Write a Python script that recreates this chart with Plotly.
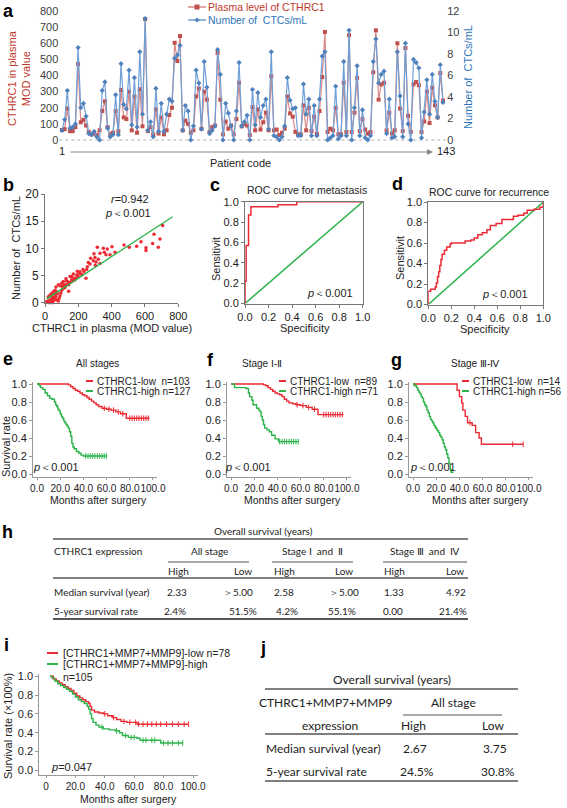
import plotly.graph_objects as go

W, H = 567, 808
ARIAL = "Arial, Liberation Sans, sans-serif"
TAB = "Lato, Carlito, sans-serif"

# ---------------- data ----------------
patient = list(range(1, 144))
plasma_mod = [62, 67, 196, 55, 55, 80, 471, 110, 125, 90, 50, 35, 40, 30, 60, 180, 240, 80, 35, 45,
              180, 55, 310, 140, 130, 300, 60, 270, 45, 315, 85, 750,
              55, 80, 35, 190, 40, 140, 35, 60, 155, 200, 603, 490, 645, 60, 120, 100, 45, 60, 270, 320,
              70, 300, 250, 50, 80, 90, 540, 250, 35, 115, 70, 90, 35, 130, 355, 85, 100,
              90, 30, 205, 60, 190, 65, 110, 170, 60, 395, 60, 65, 30, 45, 70, 270, 165, 145, 50, 35,
              35, 215, 60, 200, 55, 145, 40, 180, 390, 670, 50, 70, 60, 200,
              35, 35, 355, 50, 650, 50, 170, 385, 55, 130, 65, 40, 50, 420, 680, 250, 345, 355, 60, 170,
              40, 60, 600, 195, 55, 570, 150, 50, 345, 360, 340, 50, 115,
              300, 105, 325, 215, 140, 415, 245]
ctc_count = [0.9, 1.9, 4.6, 1.1, 1.2, 1.5, 8.6, 3.0, 3.4, 2.2, 0.6, 0.5, 0.8, 0.3, 0.0, 4.6, 5.4, 1.1, 0.3, 0.5,
             4.2, 0.5, 7.1, 3.3, 2.9, 6.5, 1.4, 5.8, 1.2, 8.2, 2.4, 11.3,
             0.9, 1.7, 0.3, 4.8, 0.8, 3.4, 0.8, 2.4, 3.8, 3.6, 7.6, 7.9, 8.8, 0.9, 3.2, 2.7, 0.0, 1.3, 6.5, 5.3,
             1.0, 7.3, 4.9, 0.6, 0.9, 1.3, 8.4, 6.1, 0.0, 3.4, 2.5, 1.3, 0.0, 2.7, 7.2, 1.3, 1.7,
             2.3, 0.0, 4.7, 1.4, 4.4, 2.1, 3.2, 3.8, 1.0, 8.2, 0.4, 0.3, 0.0, 0.3, 1.3, 5.8, 3.7, 2.9, 3.0, 0.4,
             0.4, 5.2, 2.4, 3.8, 0.4, 3.2, 0.4, 3.8, 7.8, 8.2, 0.0, 0.2, 0.4, 5.0,
             0.1, 0.4, 7.3, 0.4, 10.2, 0.0, 3.0, 6.9, 0.4, 2.8, 0.2, 0.0, 0.4, 7.3, 9.4, 5.3, 6.1, 6.4, 0.6, 3.8,
             0.2, 0.3, 8.2, 4.1, 0.3, 9.0, 1.5, 0.0, 7.5, 7.2, 6.7, 0.2, 2.6,
             5.6, 2.4, 6.1, 3.6, 2.1, 7.0, 3.5]
mod_ticks = [0, 100, 200, 300, 400, 500, 600, 700, 800]
ctc_ticks = [0, 2, 4, 6, 8, 10, 12]

# panel b scatter
b_mod = [706, 654, 690, 646, 680, 606, 606, 576, 550, 506, 474, 402, 374, 350, 314, 330, 356, 366, 294, 300,
         320, 290, 274, 260, 302, 250, 246, 228, 210, 194, 190, 170, 160, 150, 186, 130, 126, 142, 142, 110,
         100, 90, 80, 66, 60, 50, 40, 30, 20, 30, 40, 50, 60, 70, 80, 20, 26, 10, 90, 74,
         100, 120, 110, 130, 150, 166, 180, 200, 220, 206, 234, 254, 270, 306, 330, 390, 420,
         35, 45, 55, 65, 85, 45, 58, 68, 95, 105, 115, 140, 160, 175]
b_ctc = [14.2, 12.6, 11.7, 10.9, 10.2, 10.1, 9.6, 11.2, 10.4, 10.2, 10.6, 10.3, 9.9, 10.0, 10.2, 9.1, 9.3, 8.8, 9.0, 8.3,
         8.0, 7.7, 8.2, 7.4, 6.9, 6.1, 4.5, 6.1, 5.7, 5.8, 5.1, 5.3, 4.8, 4.8, 4.5, 4.0, 4.4, 3.3, 2.1, 3.9,
         3.6, 3.1, 3.3, 2.9, 2.3, 2.0, 1.7, 1.4, 1.1, 0.5, 0.7, 0.3, 0.9, 0.5, 0.3, 0.3, 0.0, 0.2, 1.3, 1.7,
         2.3, 2.8, 2.6, 3.3, 3.7, 4.0, 4.2, 4.8, 5.2, 5.4, 5.7, 6.6, 7.1, 7.5, 7.2, 8.8, 9.3,
         0.2, 1.0, 0.6, 1.2, 0.8, 0.0, 1.5, 2.0, 1.8, 3.0, 3.3, 3.8, 4.2, 4.5]
b_fit_x = [10, 766]
b_fit_y = [0.7, 15.8]

# ROC curves
roc_c_fpr = [0, 0, 0.01, 0.03, 0.05, 0.28, 0.44, 1.0]
roc_c_tpr = [0, 0.22, 0.57, 0.87, 0.95, 0.97, 1.0, 1.0]
roc_d_fpr = [0, 0, 0.02, 0.06, 0.07, 0.08, 0.09, 0.1, 0.11, 0.12, 0.14, 0.16, 0.19, 0.2, 0.32, 0.37, 0.4, 0.43,
             0.47, 0.51, 0.54, 0.59, 0.64, 0.74, 0.78, 0.83, 0.86, 0.92, 0.97, 1.0]
roc_d_tpr = [0, 0.13, 0.15, 0.17, 0.21, 0.27, 0.32, 0.38, 0.44, 0.49, 0.53, 0.56, 0.59, 0.6, 0.62, 0.63, 0.65, 0.68,
             0.7, 0.73, 0.77, 0.79, 0.83, 0.86, 0.87, 0.89, 0.92, 0.93, 0.95, 1.0]
diag = [0, 1]

# KM curves (months, survival)
e_low_t = [0, 27, 29, 31, 33, 35, 37, 39, 41, 43, 45, 47, 49, 51, 53, 56, 60, 64, 68, 72, 77, 97]
e_low_s = [1.0, 0.99, 0.97, 0.95, 0.93, 0.92, 0.9, 0.88, 0.87, 0.85, 0.83, 0.81, 0.79, 0.77, 0.75, 0.73, 0.72,
           0.71, 0.69, 0.67, 0.62, 0.62]
e_high_t = [0, 2, 3, 5, 7, 9, 11, 13, 15, 16, 17, 18, 19, 20, 21, 22, 23, 24, 25, 26, 27, 28, 29, 30, 31, 32,
            34, 36, 38, 40, 60]
e_high_s = [1.0, 0.98, 0.96, 0.94, 0.9, 0.87, 0.84, 0.83, 0.8, 0.77, 0.75, 0.72, 0.7, 0.67, 0.64, 0.62, 0.59,
            0.57, 0.55, 0.53, 0.51, 0.47, 0.42, 0.34, 0.3, 0.28, 0.25, 0.23, 0.21, 0.2, 0.2]
e_low_cens = [58, 62, 66, 70, 74, 80, 82, 84, 86, 88, 90, 92, 94, 96]
e_high_cens = [42, 44, 46, 48, 50, 52, 54, 56, 58, 60]

f_low_t = [0, 28, 30, 32, 34, 36, 38, 40, 42, 44, 46, 48, 50, 53, 56, 60, 65, 70, 75, 97]
f_low_s = [1.0, 0.99, 0.98, 0.96, 0.94, 0.92, 0.9, 0.89, 0.88, 0.86, 0.83, 0.81, 0.79, 0.78, 0.77, 0.76, 0.74,
           0.72, 0.66, 0.66]
f_high_t = [0, 3, 13, 15, 16, 18, 19, 22, 24, 25, 26, 27, 28, 29, 31, 33, 35, 38, 41, 58]
f_high_s = [1.0, 0.96, 0.95, 0.9, 0.86, 0.82, 0.77, 0.73, 0.71, 0.69, 0.64, 0.6, 0.55, 0.51, 0.49, 0.47, 0.43,
            0.39, 0.36, 0.36]
f_low_cens = [57, 62, 67, 72, 80, 82, 84, 86, 88, 90, 92, 94, 96]
f_high_cens = [42, 44, 46, 48, 50, 52, 54, 56, 58]

g_low_t = [0, 38, 40, 42, 43, 45, 47, 51, 54, 57, 59, 95]
g_low_s = [1.0, 0.93, 0.86, 0.79, 0.71, 0.64, 0.57, 0.54, 0.46, 0.4, 0.33, 0.33]
g_high_t = [0, 1, 2, 3, 4, 5, 6, 7, 8, 9, 10, 11, 12, 13, 14, 15, 16, 17, 18, 19, 20, 21, 22, 23, 24, 25, 26,
            27, 28, 29, 30, 31, 32, 33, 35]
g_high_s = [1.0, 0.98, 0.98, 0.96, 0.93, 0.91, 0.89, 0.86, 0.84, 0.8, 0.77, 0.75, 0.71, 0.68, 0.64, 0.61, 0.59,
            0.57, 0.54, 0.52, 0.5, 0.48, 0.46, 0.43, 0.41, 0.38, 0.34, 0.3, 0.27, 0.22, 0.18, 0.12, 0.05, 0.02, 0.02]
g_low_cens = [49, 86, 95]

i_low_t = [2.7, 5, 7, 9, 11, 13, 15, 17, 19, 21, 23, 25, 27, 29, 30, 31, 33, 36, 39, 42, 45, 48, 51, 55, 60, 62, 97]
i_low_s = [1.0, 0.97, 0.95, 0.93, 0.91, 0.89, 0.87, 0.85, 0.82, 0.79, 0.77, 0.75, 0.73, 0.71, 0.68, 0.64, 0.62,
           0.61, 0.6, 0.58, 0.56, 0.54, 0.52, 0.51, 0.51, 0.49, 0.49]
i_high_t = [2.7, 4, 6, 8, 10, 12, 14, 16, 18, 20, 22, 24, 26, 28, 29, 30, 31, 32, 34, 36, 39, 43, 47, 50, 52,
            56, 62, 64, 70, 78, 93]
i_high_s = [1.0, 0.98, 0.95, 0.92, 0.9, 0.88, 0.86, 0.84, 0.81, 0.78, 0.75, 0.73, 0.71, 0.68, 0.65, 0.6, 0.55,
            0.51, 0.48, 0.46, 0.44, 0.43, 0.42, 0.4, 0.37, 0.35, 0.34, 0.32, 0.32, 0.29, 0.29]
i_low_cens = [40, 46, 53, 57, 61, 63, 66, 69, 72, 75, 78, 82, 86, 90, 94, 97]
i_high_cens = [38, 48, 54, 58, 60, 66, 68, 72, 74, 80, 83, 86, 90, 93]

km_ticks = [0, 20, 40, 60, 80, 100]
surv_ticks = [0, 0.2, 0.4, 0.6, 0.8, 1.0]

# tables
h_groups = ["All stage", "Stage Ⅰ  and  Ⅱ", "Stage Ⅲ  and  Ⅳ"]
h_rows = ["Median survival (year)", "5-year survival rate"]
h_median = ["2.33", "＞5.00", "2.58", "＞5.00", "1.33", "4.92"]
h_rate = ["2.4%", "51.5%", "4.2%", "55.1%", "0.00", "21.4%"]
j_median = ["2.67", "3.75"]
j_rate = ["24.5%", "30.8%"]

RED = "#ec2a33"
GREEN = "#2cb34a"
XL_RED = "#c0504d"
XL_BLUE = "#4f81bd"

# ---------------- helpers ----------------
def dx(a, b):
    return [a / W, b / W]

def dy(top, bottom):
    return [1 - bottom / H, 1 - top / H]

annotations = []
shapes = []

def txt(s, px, py, size=11, color="#222", xa="center", ya="middle", angle=0, family=ARIAL):
    annotations.append(dict(text=s, x=px / W, y=1 - py / H, xref="paper", yref="paper", showarrow=False,
                            xanchor=xa, yanchor=ya, textangle=angle, borderpad=0,
                            font=dict(size=size, color=color, family=family)))

def pline(x0, y0, x1, y1, color="#333", width=1, dash="solid"):
    shapes.append(dict(type="line", xref="paper", yref="paper", x0=x0 / W, x1=x1 / W,
                       y0=1 - y0 / H, y1=1 - y1 / H, line=dict(color=color, width=width, dash=dash)))

def step_at(t, s, c):
    v = s[0]
    for ti, si in zip(t, s):
        if ti <= c:
            v = si
    return v

fig = go.Figure()

# ---------------- panel a ----------------
fig.add_trace(go.Scatter(x=patient, y=plasma_mod, mode="lines+markers", xaxis="x", yaxis="y",
                         line=dict(color="#d98886", width=1.2),
                         marker=dict(symbol="square", size=4, color=XL_RED), cliponaxis=False))
fig.add_trace(go.Scatter(x=patient, y=ctc_count, mode="lines+markers", xaxis="x", yaxis="y2",
                         line=dict(color="#6f9fd6", width=1.2),
                         marker=dict(symbol="diamond", size=4, color=XL_BLUE), cliponaxis=False))
shapes.append(dict(type="line", xref="x", yref="y", x0=0, x1=144.2, y0=0, y1=0,
                   line=dict(color="#b0b0b0", width=1, dash="dot"), layer="below"))

# ---------------- panel b ----------------
fig.add_trace(go.Scatter(x=b_mod, y=b_ctc, mode="markers", xaxis="x2", yaxis="y3",
                         marker=dict(size=3.5, color=RED), cliponaxis=False))
fig.add_trace(go.Scatter(x=b_fit_x, y=b_fit_y, mode="lines", xaxis="x2", yaxis="y3",
                         line=dict(color=GREEN, width=1.3)))

# ---------------- panel c, d ----------------
for fx, ty, xa, ya in [(roc_c_fpr, roc_c_tpr, "x3", "y4"), (roc_d_fpr, roc_d_tpr, "x4", "y5")]:
    fig.add_trace(go.Scatter(x=diag, y=diag, mode="lines", xaxis=xa, yaxis=ya,
                             line=dict(color=GREEN, width=1.5)))
    fig.add_trace(go.Scatter(x=fx, y=ty, mode="lines", xaxis=xa, yaxis=ya,
                             line=dict(color=RED, width=1.5, shape="hv"), cliponaxis=False))

# ---------------- KM panels ----------------
def km(t, s, cens, color, xa, ya):
    fig.add_trace(go.Scatter(x=t, y=s, mode="lines", xaxis=xa, yaxis=ya,
                             line=dict(color=color, width=1.4, shape="hv")))
    if cens:
        fig.add_trace(go.Scatter(x=cens, y=[step_at(t, s, c) for c in cens], mode="markers",
                                 xaxis=xa, yaxis=ya,
                                 marker=dict(symbol="line-ns", size=4, line=dict(width=1, color=color))))

km(e_low_t, e_low_s, e_low_cens, RED, "x5", "y6")
km(e_high_t, e_high_s, e_high_cens, GREEN, "x5", "y6")
km(f_low_t, f_low_s, f_low_cens, RED, "x6", "y7")
km(f_high_t, f_high_s, f_high_cens, GREEN, "x6", "y7")
km(g_low_t, g_low_s, g_low_cens, RED, "x7", "y8")
km(g_high_t, g_high_s, [], GREEN, "x7", "y8")
km(i_low_t, i_low_s, i_low_cens, RED, "x8", "y9")
km(i_high_t, i_high_s, i_high_cens, GREEN, "x8", "y9")

# ---------------- axes ----------------
tickfont = dict(family=ARIAL, size=11, color="#222")
kmxfont = dict(family=ARIAL, size=10, color="#222")
ytickfont = dict(family=ARIAL, size=11, color="#222")
base = dict(showgrid=False, zeroline=False, showline=True, linecolor="#777", linewidth=1,
            ticks="outside", ticklen=3, tickcolor="#777", tickangle=0)

layout = dict(width=W, height=H, margin=dict(l=0, r=0, t=0, b=0), showlegend=False,
              paper_bgcolor="white", plot_bgcolor="white", template="none")

layout["xaxis"] = dict(domain=dx(59.3, 446.2), range=[0, 144.2], showgrid=False, zeroline=False,
                       showline=False, showticklabels=False, ticks="")
layout["yaxis"] = dict(domain=dy(11, 141.3), range=[-8, 800], tickvals=mod_ticks, showgrid=False,
                       zeroline=False, showline=False, ticks="",
                       tickfont=dict(family=ARIAL, size=11, color="#404040"))
layout["yaxis2"] = dict(overlaying="y", side="right", range=[-0.12, 12], tickvals=ctc_ticks,
                        showgrid=False, zeroline=False, showline=False, ticks="",
                        tickfont=dict(family=ARIAL, size=11, color="#404040"))

layout["xaxis2"] = dict(base, domain=dx(45, 178.3), range=[0, 800], tickvals=[0, 200, 400, 600, 800],
                        anchor="y3", tickfont=tickfont)
layout["yaxis3"] = dict(base, domain=dy(194, 302.7), range=[0, 20], tickvals=[0, 5, 10, 15, 20],
                        anchor="x2", tickfont=dict(family=ARIAL, size=12, color="#222"))

roc_ticks = [0, 0.2, 0.4, 0.6, 0.8, 1.0]
for xn, yn, xd, yd in [("xaxis3", "yaxis4", (245, 362.7), (201.7, 303.5)),
                       ("xaxis4", "yaxis5", (428.3, 543.3), (202, 304.5))]:
    xa_id = "x" + xn[5:]
    ya_id = "y" + yn[5:]
    layout[xn] = dict(base, domain=dx(*xd), range=[0, 1], tickvals=roc_ticks, tickformat=".1f",
                      anchor=ya_id, mirror=True, tickfont=tickfont)
    layout[yn] = dict(base, domain=dy(*yd), range=[0, 1], tickvals=roc_ticks, tickformat=".1f",
                      anchor=xa_id, mirror=True, tickfont=ytickfont)

km_text = ["%.1f" % v for v in km_ticks]
for xn, yn, x0 in [("xaxis5", "yaxis6", 33), ("xaxis6", "yaxis7", 227), ("xaxis7", "yaxis8", 409)]:
    layout[xn] = dict(base, domain=dx(x0, x0 + 124), range=[-3.5, 103.5], tickvals=km_ticks,
                      ticktext=km_text, anchor="y" + yn[5:], tickfont=kmxfont, linecolor="#999",
                      tickcolor="#999", ticklen=2)
    layout[yn] = dict(base, domain=dy(381.7, 477), range=[-0.033, 1.0256], tickvals=surv_ticks,
                      tickformat=".1f", anchor="x" + xn[5:], tickfont=ytickfont, linecolor="#999",
                      tickcolor="#999")
i_text = ["0"] + km_text[1:]
layout["xaxis8"] = dict(base, domain=dx(39.3, 198), range=[-4.56, 103.4], tickvals=km_ticks,
                        ticktext=i_text, anchor="y9", tickfont=kmxfont, linecolor="#999", tickcolor="#999",
                        ticklen=2)
layout["yaxis9"] = dict(base, domain=dy(674, 775), range=[-0.05, 1.024], tickvals=surv_ticks,
                        tickformat=".1f", anchor="x8", tickfont=ytickfont, linecolor="#999", tickcolor="#999")

# ---------------- text: panel a ----------------
def letter(s, px, py):
    txt("<b>%s</b>" % s, px, py, size=18, color="#000", xa="left")

letter("a", 2, 11)
txt("CTHRC1 in plasma<br>MOD value", 19, 78, size=11, color="#c0392b", angle=-90)
txt("Number of  CTCs/mL", 468, 77, size=11, color="#2e75b6", angle=-90)
pline(188, 7, 206, 7, color="#d98886", width=1.5)
shapes.append(dict(type="rect", xref="paper", yref="paper", x0=194.5 / W, x1=199.5 / W,
                   y0=1 - 9.5 / H, y1=1 - 4.5 / H, fillcolor=XL_RED, line=dict(width=0)))
txt("Plasma level of CTHRC1", 207, 7, size=10.5, color="#c0392b", xa="left")
pline(188, 20, 206, 20, color="#6f9fd6", width=1.5)
shapes.append(dict(type="path", xref="paper", yref="paper",
                   path="M %f,%f L %f,%f L %f,%f L %f,%f Z" % (197 / W, 1 - 17.5 / H, 199.5 / W, 1 - 20 / H,
                                                             197 / W, 1 - 22.5 / H, 194.5 / W, 1 - 20 / H),
                   fillcolor=XL_BLUE, line=dict(width=0)))
txt("Number of  CTCs/mL", 207, 20, size=10.5, color="#2e75b6", xa="left")
txt("1", 62, 151, size=11, color="#222")
txt("143", 436, 151, size=11, color="#222", xa="left")
annotations.append(dict(x=433 / W, y=1 - 152 / H, xref="paper", yref="paper", text="", showarrow=True,
                        ax=-364, ay=0, axref="pixel", ayref="pixel", arrowhead=2, arrowsize=1.2,
                        arrowwidth=1, arrowcolor="#888"))
txt("Patient code", 240, 163, size=11, color="#222")

# ---------------- panel b ----------------
letter("b", 2, 185)
txt("<i>r</i>=0.942", 130, 199, size=11)
txt("<i>p</i>＜0.001", 128, 213, size=11)
txt("Number of  CTCs/mL", 16, 248, size=11, angle=-90)
txt("CTHRC1 in plasma (MOD value)", 112, 328, size=11)

# ---------------- panel c, d ----------------
letter("c", 209, 185)
txt("ROC curve for metastasis", 307, 190, size=10.5)
txt("<i>p</i>＜0.001", 330, 293, size=11)
txt("Specificity", 305, 328, size=11)
txt("Sensitivit", 216, 259, size=11, angle=-90)

letter("d", 391, 184)
txt("ROC curve for recurrence", 489, 192, size=10.5)
txt("<i>p</i>＜0.001", 505, 294, size=11)
txt("Specificity", 485, 329, size=11)
txt("Sensitivit", 400, 258, size=11, angle=-90)

# ---------------- KM texts ----------------
def km_legend(x_dash, y1, low, high):
    pline(x_dash, y1, x_dash + 7, y1, color=RED, width=2)
    txt(low, x_dash + 10, y1, size=10, xa="left")
    pline(x_dash, y1 + 10, x_dash + 7, y1 + 10, color=GREEN, width=2)
    txt(high, x_dash + 10, y1 + 10, size=10, xa="left")

letter("e", 2, 359)
txt("All stages", 97, 364, size=10)
km_legend(86, 381, "CTHRC1-low  n=103", "CTHRC1-high n=127")
txt("<i>p</i>＜0.001", 32, 467, size=11, xa="left")
txt("Months after surgery", 98, 500, size=10.5)
txt("Survival rate", 6, 447, size=11, angle=-90)

letter("f", 206, 360)
txt("Stage Ⅰ-Ⅱ", 262, 364, size=10)
km_legend(279, 381, "CTHRC1-low  n=89", "CTHRC1-high n=71")
txt("<i>p</i>＜0.001", 224, 467, size=11, xa="left")
txt("Months after surgery", 292, 500, size=10.5)

letter("g", 390, 360)
txt("Stage Ⅲ-Ⅳ", 475, 364, size=10)
km_legend(462, 381, "CTHRC1-low  n=14", "CTHRC1-high n=56")
txt("<i>p</i>＜0.001", 409, 467, size=11, xa="left")
txt("Months after surgery", 480, 500, size=10.5)

# ---------------- panel h table ----------------
letter("h", 1, 532)
txt("Overall survival (years)", 263, 531, size=10, family=TAB)
pline(53, 539, 468, 539, color="#555", width=1.5)
txt("CTHRC1 expression", 53, 551, size=10, family=TAB, xa="left")
for g, cx, (u0, u1) in zip(h_groups, [209, 312, 425], [(168, 249), (272, 353), (383, 467)]):
    txt(g, cx, 551, size=10, family=TAB)
    pline(u0, 562, u1, 562, color="#555", width=1.2)
col_x = [178, 243, 284, 344, 394, 455]
for k, cx in enumerate(col_x):
    txt("High" if k % 2 == 0 else "Low", cx, 571, size=10, family=TAB)
pline(53, 578, 468, 578, color="#555", width=1.5)
txt(h_rows[0], 53, 592, size=10, family=TAB, xa="left")
txt(h_rows[1], 53, 611, size=10, family=TAB, xa="left")
for v, cx in zip(h_median, [177, 238, 284, 344, 394, 456]):
    txt(v, cx, 592, size=10, family=TAB)
for v, cx in zip(h_rate, [175, 243, 287, 342, 393, 453]):
    txt(v, cx, 611, size=10, family=TAB)
pline(53, 619, 468, 619, color="#555", width=2)

# ---------------- panel i ----------------
letter("i", 3, 645)
pline(47, 653, 58, 653, color=RED, width=2)
txt("[CTHRC1+MMP7+MMP9]-low n=78", 62, 653, size=10.5, xa="left")
pline(47, 664, 58, 664, color=GREEN, width=2)
txt("[CTHRC1+MMP7+MMP9]-high", 62, 664, size=10.5, xa="left")
txt("n=105", 62, 677, size=10.5, xa="left")
txt("<i>p</i>=0.047", 50, 767, size=11, xa="left")
txt("Months after surgery", 128, 799, size=10.5)
txt("Survival rate (×100%)", 8, 726, size=11, angle=-90)

# ---------------- panel j table ----------------
letter("j", 259, 648)
txt("Overall survival (years)", 392, 679, size=12, family=TAB)
pline(265, 689, 518, 689, color="#555", width=1.5)
txt("CTHRC1+MMP7+MMP9", 326, 702, size=12, family=TAB)
txt("All stage", 453, 702, size=12, family=TAB)
pline(403, 715, 502, 715, color="#555", width=1.2)
txt("expression", 330, 725, size=12, family=TAB)
txt("High", 413, 725, size=12, family=TAB)
txt("Low", 493, 725, size=12, family=TAB)
pline(265, 734, 518, 734, color="#555", width=1.5)
txt(h_rows[0], 265, 748, size=12, family=TAB, xa="left")
txt(j_median[0], 415, 748, size=12, family=TAB)
txt(j_median[1], 495, 748, size=12, family=TAB)
txt(h_rows[1], 265, 771, size=12, family=TAB, xa="left")
txt(j_rate[0], 417, 771, size=12, family=TAB)
txt(j_rate[1], 498, 771, size=12, family=TAB)
pline(265, 781, 518, 781, color="#555", width=1.5)

layout["annotations"] = annotations
layout["shapes"] = shapes
fig.update_layout(**layout)
fig.write_html("out.html", config={"displayModeBar": False},
               post_script="document.body.style.margin='0';document.body.style.overflow='hidden';")
